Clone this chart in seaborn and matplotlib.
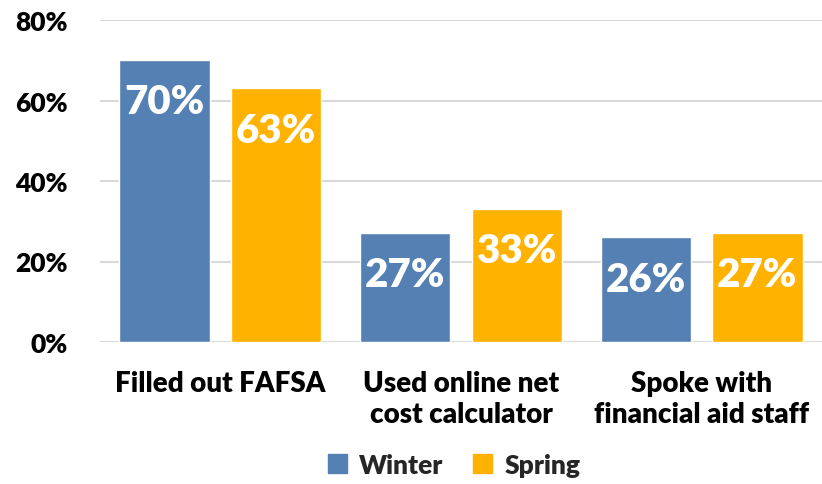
import matplotlib
matplotlib.use("Agg")
import matplotlib.pyplot as plt
import seaborn as sns
import pandas as pd
from matplotlib.patches import Patch

categories = ["Filled out FAFSA", "Used online net\ncost calculator", "Spoke with\nfinancial aid staff"]
seasons = ["Winter", "Spring"]
winter = [0.70, 0.27, 0.26]
spring = [0.63, 0.33, 0.27]
colors = ["#5580B4", "#FFB300"]
yticks = [0, 0.2, 0.4, 0.6, 0.8]
ytick_labels = ["0%", "20%", "40%", "60%", "80%"]

df = pd.DataFrame({
    "category": categories * 2,
    "season": [seasons[0]] * 3 + [seasons[1]] * 3,
    "value": winter + spring,
})

sns.set_theme(style="white")
plt.rcParams['font.family'] = ['Lato', 'DejaVu Sans']
W = "heavy"

fig = plt.figure(figsize=(8.22, 4.85), dpi=100)
ax = fig.add_axes([100 / 822, 142 / 485, 722 / 822, 322 / 485])
sns.barplot(data=df, x="category", y="value", hue="season", hue_order=seasons,
            palette=colors, width=0.926, gap=0.19, saturation=1, ax=ax, legend=False)

for cont in ax.containers:
    for bar in cont:
        h = bar.get_height()
        ax.annotate(f"{round(h * 100)}%", (bar.get_x() + bar.get_width() / 2, h),
                    xytext=(0, -30), textcoords="offset points", ha="center", va="center",
                    color="white", fontsize=29, fontweight=W)

ax.set_xlim(-0.5, 2.5)
ax.set_ylim(0, 0.8)
ax.set_yticks(yticks)
ax.set_yticklabels(ytick_labels, fontsize=19, fontweight=W, color="black")
for t in ax.get_xticklabels():
    t.set_fontsize(20)
    t.set_fontweight(W)
    t.set_color("black")
    t.set_linespacing(1.25)
ax.tick_params(axis="y", length=0, pad=23)
ax.tick_params(axis="x", length=0, pad=20)
ax.set_xlabel("")
ax.set_ylabel("")
for s in ax.spines.values():
    s.set_visible(False)
ax.yaxis.grid(True, color="#d9d9d9", lw=1.5)
ax.set_axisbelow(True)

handles = [Patch(color=c, label=s) for c, s in zip(colors, seasons)]
fig.legend(handles=handles, loc="center", bbox_to_anchor=(454 / 822, 19 / 485), ncol=2,
           frameon=False, handlelength=0.75, handleheight=0.75, handletextpad=0.45,
           columnspacing=1.1, prop={"size": 19, "weight": W})

fig.savefig("out.png", dpi=100)
